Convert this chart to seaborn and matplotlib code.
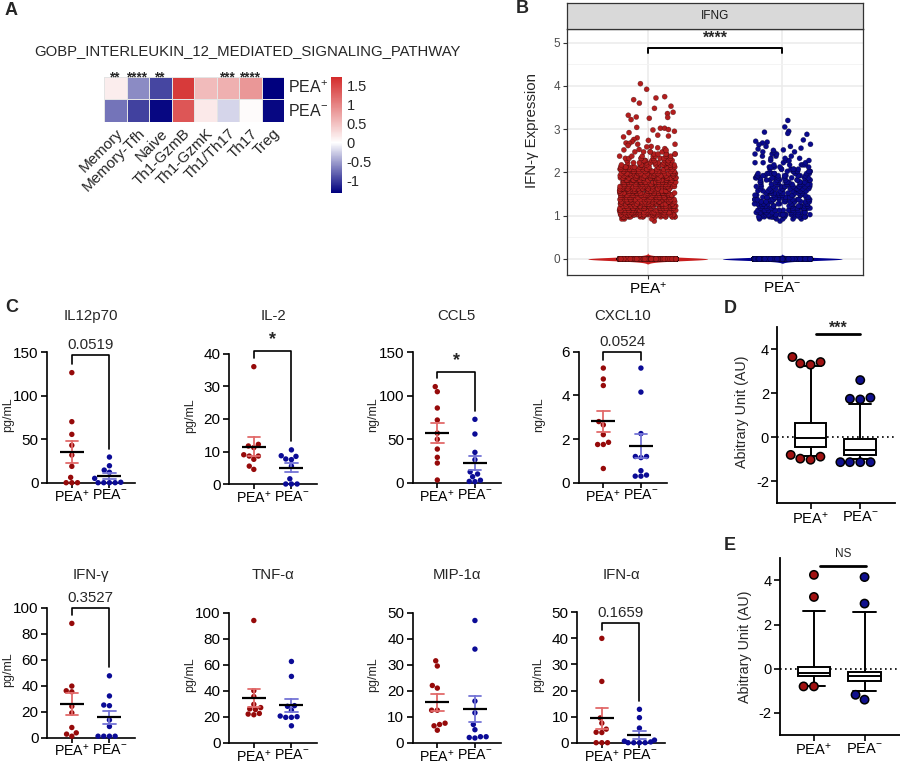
import numpy as np
import pandas as pd
import matplotlib
matplotlib.use("Agg")
import matplotlib.pyplot as plt
import matplotlib.transforms as mtrans
from matplotlib.colors import LinearSegmentedColormap
from matplotlib.ticker import MultipleLocator
import seaborn as sns

# ====================== DATA ======================
GROUPS = ["PEA+", "PEA-"]

# ---- Panel A : heatmap ----
cell_types = ["Memory", "Memory-Tfh", "Naive", "Th1-GzmB", "Th1-GzmK", "Th1/Th17", "Th17", "Treg"]
heat_pea_pos = [0.15, -0.60, -0.95, 1.60, 0.55, 0.65, 0.85, -1.40]
heat_pea_neg = [-0.72, -0.98, -1.28, 1.38, 0.18, -0.22, 0.04, -1.28]
heat_stars = ["**", "****", "**", "", "", "***", "****", ""]
heat_vmin, heat_vmax = -1.32, 1.74
cbar_ticks = [-1, -0.5, 0, 0.5, 1, 1.5]
cbar_ticklabels = ["-1", "-0.5", "0", "0.5", "1", "1.5"]

# ---- Panel B : IFNG expression per cell ----
ifng_bin_centers = [0.875, 0.925, 0.975, 1.025, 1.075, 1.125, 1.175, 1.225, 1.275, 1.325,
                    1.375, 1.425, 1.475, 1.525, 1.575, 1.625, 1.675, 1.725, 1.775, 1.825,
                    1.875, 1.925, 1.975, 2.025, 2.075, 2.125, 2.175, 2.225, 2.275, 2.325,
                    2.375, 2.425, 2.475]
ifng_pos_counts = [1, 3, 18, 30, 27, 27, 26, 26, 26, 26,
                   26, 26, 26, 26, 26, 26, 26, 26, 25, 25,
                   24, 24, 22, 20, 18, 15, 13, 11, 10, 8,
                   7, 6, 5]
ifng_neg_counts = [1, 5, 16, 18, 14, 13, 13, 13, 13, 13,
                   13, 12, 12, 12, 12, 11, 11, 11, 11, 11,
                   10, 10, 9, 8, 7, 6, 5, 4, 4, 3,
                   3, 3, 3]
ifng_pos_high = [4.05, 3.92, 3.75, 3.72, 3.68, 3.60, 3.53, 3.48, 3.39, 3.36, 3.32, 3.28,
                 3.27, 3.25, 3.22, 3.04, 3.02, 3.02, 2.99, 2.98, 2.95, 2.92, 2.86, 2.84,
                 2.82, 2.80, 2.76, 2.74, 2.71, 2.68, 2.67, 2.65, 2.65, 2.62, 2.60, 2.59,
                 2.57, 2.55, 2.53, 2.52, 2.51]
ifng_neg_high = [3.20, 3.05, 2.95, 2.93, 2.90, 2.88, 2.75, 2.72, 2.70, 2.68, 2.65, 2.64,
                 2.60, 2.60, 2.56, 2.54, 2.52, 2.51]
ifng_zero_cells = [7000, 5000]

# ---- Panel C : cytokines ----
c_titles = ["IL12p70", "IL-2", "CCL5", "CXCL10", "IFN-γ", "TNF-α", "MIP-1α", "IFN-α"]
c_units = ["pg/mL", "pg/mL", "ng/mL", "ng/mL", "pg/mL", "pg/mL", "pg/mL", "pg/mL"]
c_ymax = [150, 40, 150, 6, 100, 100, 50, 50]
c_ystep = [50, 10, 50, 2, 20, 20, 10, 10]
c_pvalue = ["0.0519", "*", "*", "0.0524", "0.3527", None, None, "0.1659"]
c_bracket_top = [147, 41, 127.6, 6.0, 100, None, None, 46]

il12_pos = [126.6, 70.2, 55.6, 43.0, 31.8, 18.8, 6.1, 0, 0, 0]
il12_neg = [29.5, 19.5, 14.5, 12.0, 5.0, 0.5, 0, 0, 0, 0]
il2_pos = [36.1, 12.2, 11.7, 11.2, 9.0, 8.6, 8.6, 7.6, 5.5, 4.5]
il2_neg = [10.5, 8.7, 8.5, 7.7, 7.5, 5.5, 1.6, 0, 0, 0]
ccl5_pos = [110.5, 104.7, 85.9, 72.1, 57.0, 49.9, 38.7, 29.2, 22.6, 3.1]
ccl5_neg = [72.9, 56.0, 34.9, 26.5, 12.5, 10.0, 6.9, 2.8, 1.5, 1.2]
cxcl10_pos = [5.25, 4.75, 4.45, 2.8, 2.65, 2.2, 1.85, 1.75, 1.75, 0.65]
cxcl10_neg = [5.25, 4.15, 2.25, 1.2, 1.2, 1.15, 0.55, 0.35, 0.3, 0.3]
ifng_pos = [87.9, 39.6, 36.0, 35.2, 24.0, 19.0, 7.7, 3.6, 2.6, 1.0]
ifng_neg = [47.5, 32.0, 25.0, 24.5, 13.5, 8.5, 1.0, 1.0, 1.0, 1.0]
tnfa_pos = [94.0, 40.0, 35.5, 29.5, 27.0, 26.0, 25.5, 22.5, 22.0, 21.5]
tnfa_neg = [62.5, 51.0, 28.5, 28.0, 25.0, 20.5, 20.0, 19.5, 19.5, 13.0]
mip1a_pos = [31.5, 29.5, 22.0, 21.0, 12.5, 12.5, 7.5, 7.0, 6.5, 4.8]
mip1a_neg = [47.0, 36.0, 16.0, 11.5, 7.0, 5.0, 2.3, 2.3, 2.0, 1.8]
ifna_pos = [40.0, 23.5, 9.5, 7.5, 5.2, 4.0, 3.9, 0.0, 0.0, 0.0]
ifna_neg = [12.8, 9.6, 5.6, 1.0, 0.6, 0.3, 0.0, 0.0, 0.0, 0.0]
c_pos = [il12_pos, il2_pos, ccl5_pos, cxcl10_pos, ifng_pos, tnfa_pos, mip1a_pos, ifna_pos]
c_neg = [il12_neg, il2_neg, ccl5_neg, cxcl10_neg, ifng_neg, tnfa_neg, mip1a_neg, ifna_neg]

# ---- Panels D / E : box plots (10-90 percentile whiskers) ----
d_box = {"med": [-0.05, -0.58], "q1": [-0.44, -0.80], "q3": [0.64, -0.10],
         "whislo": [-0.83, -1.00], "whishi": [3.22, 1.50]}
d_out_pos = [3.42, 3.65, 3.30, 3.36, -1.02, -0.80, -0.97, -0.88]
d_out_neg = [2.60, 1.80, 1.75, 1.72, -1.13, -1.13, -1.13, -1.13]
e_box = {"med": [-0.20, -0.33], "q1": [-0.35, -0.55], "q3": [0.06, -0.15],
         "whislo": [-0.80, -1.02], "whishi": [2.62, 2.58]}
e_out_pos = [4.25, 3.25, -0.80, -0.80]
e_out_neg = [4.15, 2.95, -1.40, -1.18]

# ====================== STYLE ======================
sns.set_theme(style="ticks")
plt.rcParams["font.family"] = ["Liberation Sans", "DejaVu Sans"]
plt.rcParams["axes.unicode_minus"] = False
plt.rcParams["mathtext.fontset"] = "custom"
plt.rcParams["mathtext.rm"] = "Liberation Sans"
plt.rcParams["mathtext.it"] = "Liberation Sans:italic"
plt.rcParams["mathtext.bf"] = "Liberation Sans:bold"

LBL = {"PEA+": "PEA$^{+}$", "PEA-": "PEA$^{-}$"}
RED_DOT, BLUE_DOT = "#960A0A", "#0B0B96"
RED_SEM, BLUE_SEM = "#E26A6A", "#7474D6"

W, H = 900, 765
fig = plt.figure(figsize=(9, 7.65), dpi=100)


def add_ax(l, t, r, b):
    return fig.add_axes([l / W, 1 - b / H, (r - l) / W, (b - t) / H])


def ftext(x, y, s, **kw):
    return fig.text(x / W, 1 - y / H, s, **kw)


# ====================== PANEL A ======================
ax_a = add_ax(104, 76.7, 284.3, 122)
cax = add_ax(331, 76.7, 342.3, 192.7)
heat_df = pd.DataFrame([heat_pea_pos, heat_pea_neg], index=[LBL[g] for g in GROUPS], columns=cell_types)
white_at = (0 - heat_vmin) / (heat_vmax - heat_vmin)
cmap = LinearSegmentedColormap.from_list("ph", [(0, "#00007E"), (white_at, "#FFFFFF"), (1, "#D42A2A")])
sns.heatmap(heat_df, ax=ax_a, cbar_ax=cax, cmap=cmap, vmin=heat_vmin, vmax=heat_vmax,
            linewidths=0.6, linecolor="#E4E4E4", cbar_kws={"ticks": cbar_ticks},
            xticklabels=True, yticklabels=True)
cax.set_yticklabels(cbar_ticklabels)
cax.tick_params(length=0, labelsize=10.5, pad=3)
ax_a.set_xticks([i + 0.5 for i in range(len(cell_types))])
ax_a.set_xticklabels(cell_types, rotation=45, ha="right", rotation_mode="anchor", fontsize=11)
shift = mtrans.ScaledTranslation(6 / 100, -2 / 100, fig.dpi_scale_trans)
for lab in ax_a.get_xticklabels():
    lab.set_transform(lab.get_transform() + shift)
ax_a.yaxis.tick_right()
ax_a.set_yticks([0.5, 1.5])
ax_a.set_yticklabels([LBL[g] for g in GROUPS], rotation=0, fontsize=11.5, va="center")
ax_a.tick_params(length=0, pad=3)
ax_a.set_xlabel("")
ax_a.set_ylabel("")
for i, s in enumerate(heat_stars):
    if s:
        ax_a.text(i + 0.5, 0.22, s, ha="center", va="baseline", fontsize=9.8, fontweight="bold",
                  clip_on=False)
ftext(247.5, 50.7, "GOBP_INTERLEUKIN_12_MEDIATED_SIGNALING_PATHWAY", ha="center", va="center", fontsize=10.7)

# ====================== PANEL B ======================
ax_b = add_ax(567, 28.7, 863, 275)
sax = add_ax(567, 3, 863, 28.7)
sax.set_facecolor("#D9D9D9")
sax.set_xticks([])
sax.set_yticks([])
for s in sax.spines.values():
    s.set_color("#333333")
    s.set_linewidth(0.9)
sax.text(0.5, 0.5, "IFNG", transform=sax.transAxes, ha="center", va="center", fontsize=8.5, color="#1A1A1A")

b_vals, b_grp = [], []
for g, nz, counts, high in zip(GROUPS, ifng_zero_cells, [ifng_pos_counts, ifng_neg_counts],
                               [ifng_pos_high, ifng_neg_high]):
    v = np.concatenate([np.zeros(nz), np.repeat(ifng_bin_centers, counts), high])
    b_vals.append(v)
    b_grp += [g] * len(v)
df_b = pd.DataFrame({"group": b_grp, "expr": np.concatenate(b_vals)})

sns.violinplot(data=df_b, x="group", y="expr", hue="group", order=GROUPS, hue_order=GROUPS,
               palette={"PEA+": "#C81E1E", "PEA-": "#000090"}, density_norm="width", width=0.89,
               bw_adjust=0.45, cut=3, gridsize=3000, inner=None, linewidth=0, saturation=1,
               legend=False, ax=ax_b)
np.random.seed(3)
sns.stripplot(data=df_b, x="group", y="expr", hue="group", order=GROUPS, hue_order=GROUPS,
              palette={"PEA+": "#B21E1E", "PEA-": "#0A0A8C"}, jitter=0.21, size=3.7,
              linewidth=0.3, edgecolor="#00000080", legend=False, ax=ax_b, zorder=3)
ax_b.set_xlim(-0.6, 1.6)
ax_b.set_ylim(-0.37, 5.32)
ax_b.set_yticks([0, 1, 2, 3, 4, 5])
ax_b.yaxis.set_minor_locator(MultipleLocator(0.5))
ax_b.set_xticks([0, 1])
ax_b.set_xticklabels([LBL[g] for g in GROUPS], fontsize=11, color="black")
ax_b.set_axisbelow(True)
ax_b.grid(which="major", color="#EBEBEB", linewidth=1.1)
ax_b.grid(which="minor", axis="y", color="#F3F3F3", linewidth=0.6)
ax_b.tick_params(which="minor", length=0)
ax_b.tick_params(axis="y", labelsize=8.5, labelcolor="#4D4D4D", length=3, color="#333333", width=0.8, pad=2)
ax_b.tick_params(axis="x", length=3, color="#333333", width=0.8, pad=1)
for s in ax_b.spines.values():
    s.set_color("#333333")
    s.set_linewidth(0.9)
    s.set_visible(True)
ax_b.set_xlabel("")
ax_b.set_ylabel("")
ftext(532, 130, "IFN-γ Expression", rotation=90, ha="center", va="center", fontsize=10.8)
ax_b.plot([0, 0, 1, 1], [4.77, 4.87, 4.87, 4.77], color="black", lw=1.4)
ax_b.text(0.5, 5.0, "****", ha="center", va="baseline", fontsize=11.5, fontweight="bold")

# ====================== PANEL C ======================
c_boxes = [(47, 352.3, 135, 482.7), (229, 354, 317, 484), (412.5, 352.3, 500.5, 482.7),
           (578.5, 351.7, 666.5, 482.7), (47, 607.7, 135, 737.5), (229, 612.7, 317, 742.7),
           (412.5, 612.7, 500.5, 742.7), (577, 612.3, 665, 742.7)]
c_title_y = [316, 316, 316, 316, 575, 575, 575, 575]

for k in range(8):
    l, t, r, b = c_boxes[k]
    ax = add_ax(l, t, r, b)
    pos, neg = c_pos[k], c_neg[k]
    dfc = pd.DataFrame({"group": ["PEA+"] * len(pos) + ["PEA-"] * len(neg), "value": pos + neg})
    sns.swarmplot(data=dfc, x="group", y="value", hue="group", order=GROUPS, hue_order=GROUPS,
                  palette={"PEA+": RED_DOT, "PEA-": BLUE_DOT}, size=3.9, linewidth=0,
                  legend=False, ax=ax, zorder=3, clip_on=False)
    for g, ecol in zip(GROUPS, [RED_SEM, BLUE_SEM]):
        sns.pointplot(data=dfc[dfc.group == g], x="group", y="value", order=GROUPS,
                      errorbar="se", capsize=0.33, color="black", marker="_", markersize=17,
                      markeredgewidth=1.6, linestyle="none",
                      err_kws={"color": ecol, "linewidth": 1.3, "zorder": 4}, zorder=5, ax=ax)
    ymax = c_ymax[k]
    ax.set_xlim(-0.66, 1.68)
    ax.set_ylim(0, ymax)
    ax.set_yticks(np.arange(0, ymax + 1e-9, c_ystep[k]))
    ax.set_xticks([0, 1])
    ax.set_xticklabels([LBL[g] for g in GROUPS], fontsize=10.2)
    ax.set_xlabel("")
    ax.set_ylabel("")
    for s in ["top", "right"]:
        ax.spines[s].set_visible(False)
    for s in ["left", "bottom"]:
        ax.spines[s].set_linewidth(1.2)
        ax.spines[s].set_color("black")
    ax.tick_params(axis="y", direction="out", length=4, width=1.2, labelsize=11, pad=2, colors="black")
    ax.tick_params(axis="x", direction="out", length=3.5, width=1.2, pad=0.5, colors="black")
    ftext((l + r) / 2, c_title_y[k], c_titles[k], ha="center", va="center", fontsize=10.8)
    ftext(l - 39, (t + b) / 2 - 3, c_units[k], rotation=90, ha="center", va="center", fontsize=9)
    if c_pvalue[k] is not None:
        top = c_bracket_top[k]
        legs = [min(max(v) + 0.065 * ymax, top - 0.04 * ymax) for v in (pos, neg)]
        ax.plot([0, 0, 1, 1], [legs[0], top, top, legs[1]], color="black", lw=1.2, clip_on=False)
        is_star = c_pvalue[k] == "*"
        ax.annotate(c_pvalue[k], xy=(0.5, top), xytext=(0, 2), textcoords="offset points",
                    ha="center", va="bottom", fontsize=13 if is_star else 10.8,
                    fontweight="bold" if is_star else "normal", annotation_clip=False)

# ====================== PANELS D / E ======================
def box_panel(box, stats, out_pos, out_neg, sig, sig_y, sig_x, text_y, text_size, ylab_dy):
    l, t, r, b = box
    ax = add_ax(l, t, r, b)
    st = [dict(med=stats["med"][i], q1=stats["q1"][i], q3=stats["q3"][i],
               whislo=stats["whislo"][i], whishi=stats["whishi"][i], fliers=[]) for i in range(2)]
    ax.axhline(0, color="black", ls=(0, (1, 2)), lw=1.2, zorder=1)
    ax.bxp(st, positions=[0, 1], widths=0.64, capwidths=0.44, patch_artist=True, showfliers=False,
           boxprops=dict(facecolor="white", edgecolor="black", linewidth=1.4),
           medianprops=dict(color="black", linewidth=1.4),
           whiskerprops=dict(color="black", linewidth=1.4),
           capprops=dict(color="black", linewidth=1.4), manage_ticks=False, zorder=2)
    dfo = pd.DataFrame({"group": ["PEA+"] * len(out_pos) + ["PEA-"] * len(out_neg),
                        "value": out_pos + out_neg})
    sns.swarmplot(data=dfo, x="group", y="value", hue="group", order=GROUPS, hue_order=GROUPS,
                  palette={"PEA+": "#A01212", "PEA-": "#10108E"}, size=6.0, edgecolor="black",
                  linewidth=1.1, legend=False, ax=ax, zorder=4, clip_on=False)
    ax.set_xlim(-0.67, 1.7)
    ax.set_ylim(-3, 5)
    ax.set_yticks([-2, 0, 2, 4])
    ax.set_xticks([0, 1])
    ax.set_xticklabels([LBL[g] for g in GROUPS], fontsize=10)
    ax.set_xlabel("")
    ax.set_ylabel("")
    for s in ["top", "right"]:
        ax.spines[s].set_visible(False)
    for s in ["left", "bottom"]:
        ax.spines[s].set_linewidth(1.3)
        ax.spines[s].set_color("black")
    ax.tick_params(direction="out", length=4, width=1.2, labelsize=10.5, pad=2, colors="black")
    ax.tick_params(axis="x", pad=1)
    ftext(l - 35.5, (t + b) / 2 + ylab_dy, "Abitrary Unit (AU)", rotation=90, ha="center",
          va="center", fontsize=10.3)
    ax.plot(sig_x, [sig_y, sig_y], color="black", lw=2, clip_on=False)
    ax.text(np.mean(sig_x), text_y, sig, ha="center", va="center", fontsize=text_size,
            fontweight="bold" if sig.startswith("*") else "normal", clip_on=False)
    return ax


box_panel((777.3, 327.3, 895, 503.3), d_box, d_out_pos, d_out_neg, "***", 4.70, [0.11, 0.99], 4.95, 11.5, -4)
box_panel((780, 558.3, 900, 735), e_box, e_out_pos, e_out_neg, "NS", 4.67, [0.12, 1.03], 5.2, 8.5, 0)

# ====================== PANEL LETTERS ======================
for letter, (x, y) in {"A": (11.5, 10.5), "B": (522, 8.5), "C": (11.5, 307),
                       "D": (730, 308.3), "E": (730, 545)}.items():
    ftext(x, y, letter, ha="center", va="center", fontsize=13, fontweight="bold")

fig.savefig("out.png", dpi=100)
